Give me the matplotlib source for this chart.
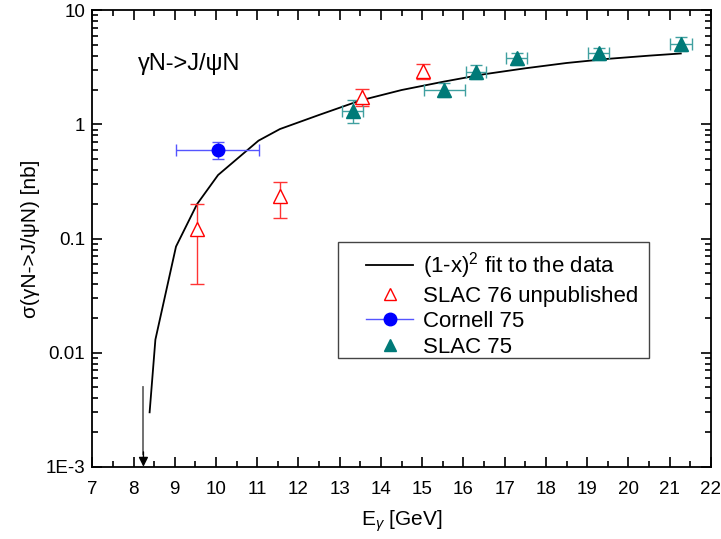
import matplotlib.pyplot as plt
import matplotlib.ticker as mticker
from matplotlib.lines import Line2D
from matplotlib.patches import Rectangle
import numpy as np

plt.rcParams['font.family'] = ['Liberation Sans', 'DejaVu Sans']
plt.rcParams['mathtext.fontset'] = 'custom'
plt.rcParams['mathtext.rm'] = 'Liberation Sans'
plt.rcParams['mathtext.it'] = 'Liberation Sans:italic'

# (1-x)^2 fit curve
fitE = [8.39, 8.53, 9.03, 9.54, 10.05, 11.03, 11.55, 12.5, 13.5, 14.5, 15.5, 16.5, 17.5, 18.5, 19.5, 20.5, 21.27]
fitSigma = [0.003, 0.013, 0.085, 0.2, 0.36, 0.72, 0.91, 1.21, 1.62, 2.0, 2.36, 2.75, 3.1, 3.45, 3.75, 4.0, 4.18]

# SLAC 76 unpublished
slac76E = [9.54, 11.54, 13.53, 15.03]
slac76Sigma = [0.12, 0.235, 1.74, 2.92]
slac76Lo = [0.08, 0.085, 0.3, 0.4]
slac76Hi = [0.08, 0.075, 0.3, 0.45]

# Cornell 75
cornellE = [10.04]
cornellSigma = [0.6]
cornellXerr = [1.0]
cornellYerr = [0.1]

# SLAC 75
slac75E = [13.31, 15.54, 16.3, 17.29, 19.28, 21.27]
slac75Sigma = [1.32, 2.02, 2.88, 3.78, 4.18, 5.1]
slac75Xerr = [0.25, 0.5, 0.25, 0.26, 0.26, 0.26]
slac75Yerr = [0.3, 0.3, 0.4, 0.47, 0.52, 0.68]

teal = '#007a78'

fig = plt.figure(figsize=(7.21, 5.39), dpi=100)
ax = fig.add_axes([0.128, 0.134, 0.858, 0.847])
ax.set_yscale('log')
ax.set_xlim(7, 22)
ax.set_ylim(1e-3, 10)

ax.plot(fitE, fitSigma, color='black', linewidth=1.3, zorder=3)

ax.errorbar(slac76E, slac76Sigma, yerr=[slac76Lo, slac76Hi], fmt='^', markersize=10,
            markerfacecolor='white', markeredgecolor='red', markeredgewidth=1.0,
            ecolor='#ff3333', elinewidth=1.0, capsize=5, zorder=4)

ax.errorbar(cornellE, cornellSigma, xerr=cornellXerr, yerr=cornellYerr, fmt='o', markersize=9,
            color='blue', ecolor='#5555ff', elinewidth=1.0, capsize=4, zorder=4)

ax.errorbar(slac75E, slac75Sigma, xerr=slac75Xerr, yerr=slac75Yerr, fmt='^', markersize=10,
            color=teal, ecolor='#40a0a0', elinewidth=1.0, capsize=4, zorder=4)

# threshold arrow
ax.plot([8.24, 8.24], [5e-3, 1.3e-3], color='#666666', linewidth=1.3)
ax.annotate('', xy=(8.24, 1e-3), xytext=(8.24, 1.35e-3),
            arrowprops=dict(arrowstyle='-|>', color='black', lw=1.0, mutation_scale=14,
                            shrinkA=0, shrinkB=0))

ax.text(8.1, 3.4, 'γN->J/ψN', fontsize=17, va='center')

handles = [
    Line2D([], [], color='black', linewidth=1.3),
    Line2D([], [], linestyle='none', marker='^', markersize=9, markerfacecolor='white',
           markeredgecolor='red', markeredgewidth=1.0),
    Line2D([], [], color='#5555ff', linewidth=1.0, marker='o', markersize=9,
           markerfacecolor='blue', markeredgecolor='blue'),
    Line2D([], [], linestyle='none', marker='^', markersize=9, color=teal),
]
labels = ['(1-x)$^2$ fit to the data', 'SLAC 76 unpublished', 'Cornell 75', 'SLAC 75']
# legend frame drawn separately so the padding can match the reference
ax.add_patch(Rectangle((0.397, 0.2385), 0.503, 0.2535, transform=ax.transAxes,
                       facecolor='white', edgecolor='#444444', linewidth=1.0, zorder=5))
leg = ax.legend(handles, labels, loc='upper left', bbox_to_anchor=(0.443, 0.474), fontsize=16,
                frameon=False, handlelength=2.1, borderpad=0, labelspacing=0.2,
                handletextpad=0.45, borderaxespad=0)
leg.set_zorder(6)

ax.xaxis.set_major_locator(mticker.MultipleLocator(1))
ax.xaxis.set_minor_locator(mticker.MultipleLocator(0.5))
ax.yaxis.set_major_locator(mticker.FixedLocator([1e-3, 1e-2, 1e-1, 1, 10]))
ax.yaxis.set_major_formatter(mticker.FixedFormatter(['1E-3', '0.01', '0.1', '1', '10']))
ax.yaxis.set_minor_locator(mticker.LogLocator(base=10, subs=np.arange(2, 10)))
ax.yaxis.set_minor_formatter(mticker.NullFormatter())

ax.tick_params(which='both', direction='in', top=True, right=True, labelsize=13.5, width=1.2)
ax.tick_params(which='major', length=7)
ax.tick_params(axis='x', which='major', pad=10)
ax.tick_params(axis='y', which='major', pad=5)
ax.tick_params(which='minor', length=4)
for s in ax.spines.values():
    s.set_linewidth(1.3)

ax.set_xlabel('E$_\\gamma$ [GeV]', fontsize=15, labelpad=8)
ax.set_ylabel('σ(γN->J/ψN) [nb]', fontsize=15, labelpad=4)

fig.savefig('out.png', dpi=100)
